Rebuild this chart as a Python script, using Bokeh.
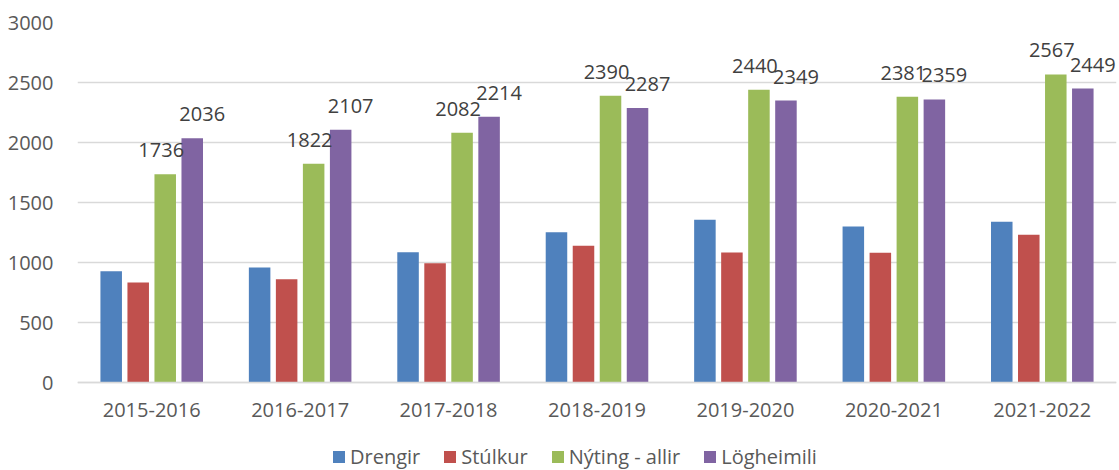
from bokeh.plotting import figure
from bokeh.models import (ColumnDataSource, FactorRange, Range1d, FixedTicker,
                          LabelSet, Legend, LegendItem)
from bokeh.transform import dodge
from bokeh.core.properties import value
from bokeh.embed import file_html
from bokeh.resources import INLINE

years = ["2015-2016", "2016-2017", "2017-2018", "2018-2019",
         "2019-2020", "2020-2021", "2021-2022"]
drengir = [927, 958, 1086, 1253, 1356, 1300, 1339]
stulkur = [833, 861, 994, 1139, 1083, 1081, 1231]
nyting = [1736, 1822, 2082, 2390, 2440, 2381, 2567]
logheimili = [2036, 2107, 2214, 2287, 2349, 2359, 2449]
series_names = ["Drengir", "Stúlkur", "Nýting - allir", "Lögheimili"]
colors = ["#4F81BD", "#C0504D", "#9BBB59", "#8064A2"]
y_ticks = [0, 500, 1000, 1500, 2000, 2500, 3000]

FONT = "Open Sans"
AXIS_COL = "#595959"
GRID_COL = "#d9d9d9"

src = ColumnDataSource(dict(
    year=years, drengir=drengir, stulkur=stulkur, nyting=nyting,
    logheimili=logheimili,
    nyting_txt=[str(v) for v in nyting],
    logheimili_txt=[str(v) for v in logheimili],
))

# frame extends below zero so the legend can sit inside it
FRAME_H = 448
PX_PER_UNIT = 360 / 3000
y_min = 3000 - FRAME_H / PX_PER_UNIT

p = figure(frame_width=1039, frame_height=FRAME_H, x_range=FactorRange(*years),
           y_range=Range1d(y_min, 3000), output_backend="svg",
           toolbar_location=None, min_border_left=77, min_border_right=3,
           min_border_top=22, min_border_bottom=0)
p.outline_line_color = None
p.background_fill_color = "white"

slot = 0.182
bw = 0.145
offsets = [-1.5 * slot, -0.5 * slot, 0.5 * slot, 1.5 * slot]
cols = ["drengir", "stulkur", "nyting", "logheimili"]
renderers = []
for col, off, c in zip(cols, offsets, colors):
    r = p.vbar(x=dodge("year", off, range=p.x_range), top=col, bottom=0,
               width=bw, source=src, fill_color=c, line_color=None)
    renderers.append(r)

for col, off, xo in [("nyting", offsets[2], -4), ("logheimili", offsets[3], 10)]:
    ls = LabelSet(x=dodge("year", off, range=p.x_range), y=col, text=col + "_txt",
                  source=src, x_offset=xo, y_offset=17, text_align="center",
                  text_baseline="alphabetic", text_font=value(FONT),
                  text_font_size="20px", text_color="#404040")
    p.add_layout(ls)

p.yaxis.ticker = FixedTicker(ticks=y_ticks)
p.yaxis.axis_line_color = None
p.yaxis.major_tick_line_color = None
p.yaxis.major_tick_out = 0
p.yaxis.major_tick_in = 0
p.yaxis.minor_tick_line_color = None
p.yaxis.major_label_standoff = 24
p.yaxis.major_label_text_font = FONT
p.yaxis.major_label_text_font_size = "20px"
p.yaxis.major_label_text_color = AXIS_COL

p.xaxis.fixed_location = 0
p.xaxis.axis_line_color = GRID_COL
p.xaxis.axis_line_width = 1.3
p.xaxis.major_tick_line_color = None
p.xaxis.major_tick_out = 0
p.xaxis.major_tick_in = 0
p.xaxis.minor_tick_line_color = None
p.xaxis.major_label_standoff = 20
p.xaxis.major_label_text_font = FONT
p.xaxis.major_label_text_font_size = "20px"
p.xaxis.major_label_text_color = AXIS_COL

p.xgrid.grid_line_color = None
p.ygrid.grid_line_color = GRID_COL
p.ygrid.grid_line_width = 1.3

legend = Legend(items=[LegendItem(label=n, renderers=[r]) for n, r in zip(series_names, renderers)],
                orientation="horizontal", location=(254, 0),
                glyph_width=15, glyph_height=15, label_standoff=4, spacing=22,
                padding=0, margin=0, border_line_color=None,
                background_fill_alpha=0, label_text_font=FONT,
                label_text_font_size="20px", label_text_color=AXIS_COL)
p.add_layout(legend)

open("out.html", "w").write(file_html(p, INLINE))
